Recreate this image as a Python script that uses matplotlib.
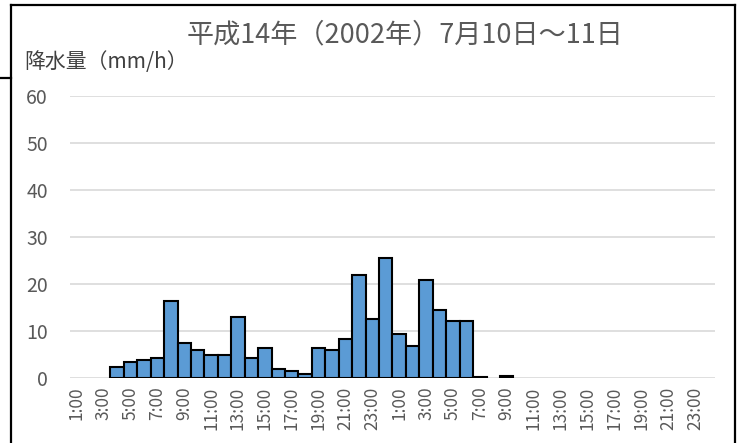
import numpy as np
import matplotlib
matplotlib.use("Agg")
import matplotlib.pyplot as plt
from matplotlib.lines import Line2D

plt.rcParams['font.family'] = ['Noto Sans CJK JP', 'DejaVu Sans']

# hourly rainfall (mm/h), 2002-07-10 1:00 .. 2002-07-11 24:00 (None = no record)
hours = ["1:00", "2:00", "3:00", "4:00", "5:00", "6:00", "7:00", "8:00",
         "9:00", "10:00", "11:00", "12:00", "13:00", "14:00", "15:00", "16:00",
         "17:00", "18:00", "19:00", "20:00", "21:00", "22:00", "23:00", "0:00"]
rain_day1 = [None, None, None, 2.4, 3.4, 3.9, 4.3, 16.4,
             7.4, 5.9, 4.9, 4.9, 12.9, 4.3, 6.4, 1.9,
             1.4, 0.8, 6.4, 5.9, 8.4, 22.0, 12.5, 25.6]
rain_day2 = [9.3, 6.8, 20.9, 14.5, 12.1, 12.1, 0.3, None,
             0.4, None, None, None, None, None, None, None,
             None, None, None, None, None, None, None, None]

labels = hours + hours
rain = rain_day1 + rain_day2
x = np.arange(len(rain))
has = np.array([r is not None for r in rain])
vals = np.array([r if r is not None else 0 for r in rain], dtype=float)

fig = plt.figure(figsize=(7.4, 4.43), dpi=100)
ax = fig.add_axes([0.0946, 0.1467, 0.8716, 0.6366])

ax.bar(x[has], vals[has], width=1.0, color='#5B9BD5', edgecolor='black',
       linewidth=1.5, zorder=3)

ax.set_xlim(-0.5, len(rain) - 0.5)
ax.set_ylim(0, 60)
ax.set_yticks(range(0, 61, 10))
ax.grid(axis='y', color='#d9d9d9', linewidth=1.2, zorder=0)
ax.set_xticks(x[::2])
ax.set_xticklabels(labels[::2], rotation=90, fontsize=12.5, color='#595959')
ax.tick_params(axis='y', length=0, pad=16, labelsize=14, labelcolor='#595959')
ax.tick_params(axis='x', length=0, pad=6)
for s in ax.spines.values():
    s.set_visible(False)

fig.text(0.547, 0.921, "平成14年（2002年）7月10日～11日", ha='center', va='center',
         fontsize=19.5, color='#595959')
fig.text(0.033, 0.86, "降水量（mm/h）", ha='left', va='center',
         fontsize=15, color='#404040')

# outer frame (bottom edge is cut off in the original)
fx0, fx1, fy1 = 11 / 740, 735 / 740, 1 - 5 / 443
for xs, ys in [([fx0, fx0], [0, fy1]), ([fx0, fx1], [fy1, fy1]),
               ([fx1, fx1], [fy1, 0]), ([0, fx0], [1 - 78 / 443, 1 - 78 / 443])]:
    fig.add_artist(Line2D(xs, ys, transform=fig.transFigure, color='black', linewidth=1.6))

fig.savefig("out.png", dpi=100)
